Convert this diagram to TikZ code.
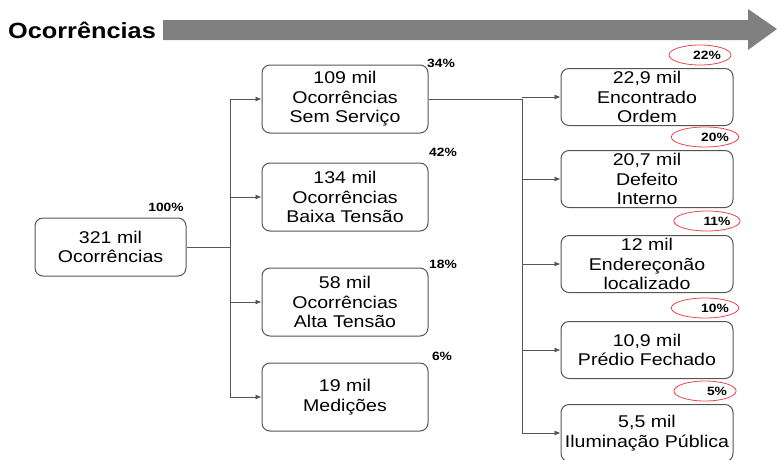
\documentclass[tikz,border=0pt]{standalone}
\usepackage{fontspec}
\setmainfont[FakeStretch=1.15]{Liberation Sans}
\usetikzlibrary{positioning,arrows.meta,calc,shapes.geometric}
\definecolor{ocGray}{HTML}{808080}
\definecolor{ocRed}{HTML}{E8474C}
\definecolor{ocLine}{HTML}{555555}
\tikzset{
  box/.style={draw=ocLine,rounded corners=8pt,line width=1pt,
    minimum height=58pt,align=center,font=\fontsize{17}{19.5}\selectfont,inner sep=1pt},
  midbox/.style={box,minimum width=166pt,minimum height=68pt},
  leafbox/.style={box,minimum width=172pt,minimum height=57pt},
  arrow/.style={-{Latex[length=6pt,width=5pt]},line width=0.8pt,draw=ocLine},
  link/.style={line width=0.8pt,draw=ocLine},
  pct/.style={font=\bfseries\fontsize{12}{13}\selectfont},
  ring/.style={pct,draw=ocRed,ellipse,line width=0.8pt,minimum width=62pt,
    minimum height=20pt,inner sep=0pt}
}
\begin{document}
\begin{tikzpicture}[x=1pt,y=-1pt]
  \useasboundingbox (0,0) rectangle (777,459);
  % title and big arrow
  \node[font=\bfseries\fontsize{22}{24}\selectfont,anchor=west,inner sep=0pt] (title) at (8,30) {Ocorrências};
  \fill[ocGray] (163,20) -- (748,20) -- (748,9) -- (777,29) -- (748,50) -- (748,40) -- (163,40) -- cycle;
  % root
  \node[box,minimum width=151pt] (root) at (110.5,247) {321 mil\\Ocorrências};
  \node[pct] (proot) at (166,207) {100\%};
  % middle column
  \node[midbox] (sem) at (345,99) {109 mil\\Ocorrências\\Sem Serviço};
  \node[midbox] (baixa) at (345,197) {134 mil\\Ocorrências\\Baixa Tensão};
  \node[midbox] (alta) at (345,302) {58 mil\\Ocorrências\\Alta Tensão};
  \node[midbox] (med) at (345,397) {19 mil\\Medições};
  \node[pct] (psem) at (441,63) {34\%};
  \node[pct] (pbaixa) at (443,152) {42\%};
  \node[pct] (palta) at (443,264) {18\%};
  \node[pct] (pmed) at (442,356) {6\%};
  % right column
  \node[leafbox] (ordem) at (647,97) {22,9 mil\\Encontrado\\Ordem};
  \node[leafbox] (defeito) at (647,179) {20,7 mil\\Defeito\\Interno};
  \node[leafbox] (ender) at (647,264) {12 mil\\Endereçonão\\localizado};
  \node[leafbox] (predio) at (647,350) {10,9 mil\\Prédio Fechado};
  \node[leafbox] (ilum) at (647,433) {5,5 mil\\Iluminação Pública};
  \node[ring] (pordem) at (700,55) {\hspace*{14pt}22\%};
  \node[ring] (pdefeito) at (705,137) {\hspace*{20pt}20\%};
  \node[ring] (pender) at (707,221) {\hspace*{20pt}11\%};
  \node[ring] (ppredio) at (705,308) {\hspace*{20pt}10\%};
  \node[ring] (pilum) at (705,391) {\hspace*{24pt}5\%};
  % connectors
  \coordinate (trunk) at (230,247);
  \coordinate (spine) at (522,99);
  \draw[link] (root.east) -- (trunk);
  \draw[link] (sem.west -| trunk) -- (med.west -| trunk);
  \foreach \n in {sem,baixa,alta,med}
    \draw[arrow] (\n.west -| trunk) -- (\n.west);
  \draw[link] (sem.east) -- (spine);
  \draw[link] (spine) -- (ilum.west -| spine);
  \foreach \n in {ordem,defeito,ender,predio,ilum}
    \draw[arrow] (\n.west -| spine) -- (\n.west);
\end{tikzpicture}
\end{document}
